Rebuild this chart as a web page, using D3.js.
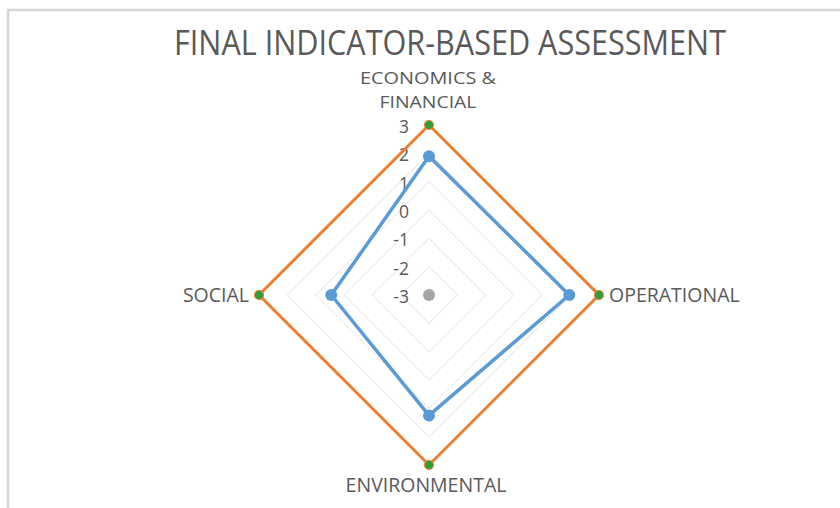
<!DOCTYPE html>
<html><head><meta charset="utf-8">
<script src="https://cdn.jsdelivr.net/npm/d3@7"></script>
<style>
html,body{margin:0;padding:0;background:#fff;}
svg{display:block;}
text{font-family:"Open Sans",sans-serif;fill:#595959;}
</style></head>
<body>
<svg id="c" width="840" height="508"></svg>
<script>
const title = "FINAL INDICATOR-BASED ASSESSMENT";
const categories = [["ECONOMICS &","FINANCIAL"],["OPERATIONAL"],["ENVIRONMENTAL"],["SOCIAL"]];
const tickValues = [-3,-2,-1,0,1,2,3];
const tickLabels = ["-3","-2","-1","0","1","2","3"];
const assessment = [1.9, 1.95, 1.25, 0.45];
const maxScore = [3, 3, 3, 3];
const minScore = [-3, -3, -3, -3];

const svg = d3.select("#c");
const cx = 429, cy = 295, R = 170;
const r = d3.scaleLinear().domain([-3, 3]).range([0, R]);
const ang = d3.scaleLinear().domain([0, categories.length]).range([0, 2*Math.PI]);
const pt = (v, i) => [cx + r(v)*Math.sin(ang(i)), cy - r(v)*Math.cos(ang(i))];
const radial = d3.line().curve(d3.curveLinearClosed);

// frame
svg.append("path").attr("d","M8,508 L8,10 L840,10").attr("fill","none")
  .attr("stroke","#d6d6d6").attr("stroke-width",2.5);

// title
svg.append("text").attr("x",450).attr("y",55).attr("text-anchor","middle")
  .attr("font-size",34).attr("textLength",552).attr("lengthAdjust","spacingAndGlyphs")
  .text(title);

// grid
svg.append("g").selectAll("path").data(tickValues.filter(t=>t>-3)).join("path")
  .attr("d", t => radial(categories.map((c,i)=>pt(t,i))))
  .attr("fill","none").attr("stroke","#e2e2e2").attr("stroke-width",1);

// tick labels
svg.append("g").selectAll("text").data(tickValues).join("text")
  .attr("x", cx-20).attr("y", t => cy - r(t) + 8)
  .attr("text-anchor","end").attr("font-size",17.5).text((t,i)=>tickLabels[i]);

// series lines
svg.append("path").attr("d", radial(maxScore.map((v,i)=>pt(v,i))))
  .attr("fill","none").attr("stroke","#ED7D31").attr("stroke-width",3).attr("stroke-linejoin","miter");
svg.append("path").attr("d", radial(assessment.map((v,i)=>pt(v,i))))
  .attr("fill","none").attr("stroke","#5B9BD5").attr("stroke-width",3.5).attr("stroke-linejoin","round");

// markers
svg.append("g").selectAll("circle").data(assessment).join("circle")
  .attr("cx",(v,i)=>pt(v,i)[0]).attr("cy",(v,i)=>pt(v,i)[1]).attr("r",6).attr("fill","#5B9BD5");
svg.append("g").selectAll("circle").data(maxScore).join("circle")
  .attr("cx",(v,i)=>pt(v,i)[0]).attr("cy",(v,i)=>pt(v,i)[1]).attr("r",4.5)
  .attr("fill","#2E9E3A").attr("stroke","#ED7D31").attr("stroke-width",1.2);
svg.append("g").selectAll("circle").data(minScore.slice(0,1)).join("circle")
  .attr("cx",(v,i)=>pt(v,i)[0]).attr("cy",(v,i)=>pt(v,i)[1]).attr("r",6).attr("fill","#A5A5A5");

// category labels
const lab = svg.append("g").attr("font-size",19.5);
const topLens = [136, 97];
lab.selectAll("text.top").data(categories[0]).join("text").attr("class","top")
  .attr("x",cx-1).attr("y",(d,i)=>cy-R-41+i*24).attr("text-anchor","middle")
  .attr("font-size",17.2).attr("textLength",(d,i)=>topLens[i]).attr("lengthAdjust","spacingAndGlyphs")
  .text(d=>d);
lab.append("text").attr("x",pt(3,1)[0]+10).attr("y",cy+7).attr("text-anchor","start").text(categories[1][0]);
lab.append("text").attr("x",cx-3).attr("y",pt(3,2)[1]+27).attr("text-anchor","middle").text(categories[2][0]);
lab.append("text").attr("x",pt(3,3)[0]-10).attr("y",cy+7).attr("text-anchor","end").text(categories[3][0]);
</script>
</body></html>
